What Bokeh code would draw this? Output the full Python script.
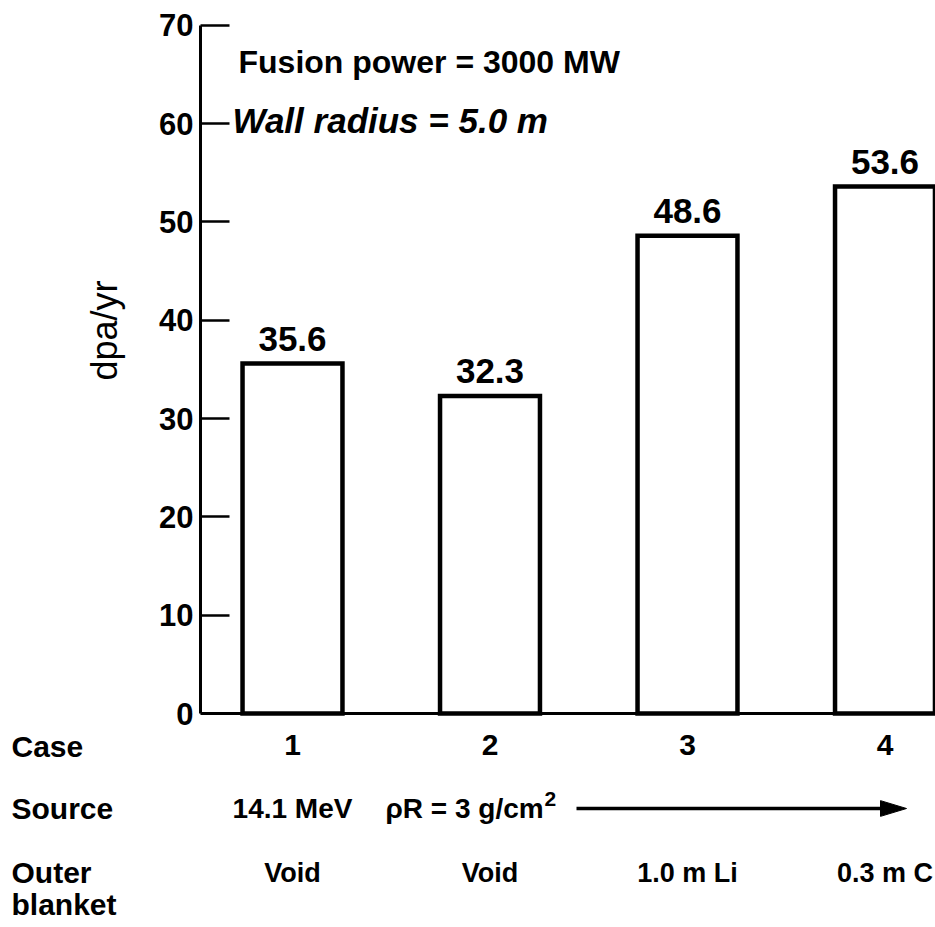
import math
from bokeh.plotting import figure
from bokeh.models import Range1d, Span, Label, FixedTicker, ColumnDataSource
from bokeh.core.properties import value
from bokeh.embed import file_html
from bokeh.resources import INLINE

# ---- data ----
cases = [1, 2, 3, 4]
case_labels = ["1", "2", "3", "4"]
dpa = [35.6, 32.3, 48.6, 53.6]
dpa_labels = ["35.6", "32.3", "48.6", "53.6"]
blankets = ["Void", "Void", "1.0 m Li", "0.3 m C"]
source_first = "14.1 MeV"
source_rest = "\u03c1R = 3 g/cm"
source_sup = "2"
row_headers = ["Case", "Source", "Outer", "blanket"]
y_ticks = [0, 10, 20, 30, 40, 50, 60, 70]
ylabel = "dpa/yr"
note1 = "Fusion power = 3000 MW"
note2 = "Wall radius = 5.0 m"

FONT = "Liberation Sans"

# ---- layout (pixels) ----
FIG_W, FIG_H = 935, 925
FRAME_LEFT = 200
FRAME_W = FIG_W - FRAME_LEFT
TOP = 10
FRAME_H = 708
BOTTOM = FIG_H - TOP - FRAME_H
PX_X = 197.5              # px per case
X0 = 1 - (292 - FRAME_LEFT) / PX_X
Y_START, Y_END = -0.5, 71.5
PX_Y = FRAME_H / (Y_END - Y_START)
ZERO_PX = TOP + Y_END * PX_Y


def dx(px):
    return X0 + (px - FRAME_LEFT) / PX_X


def dy(py):
    return (ZERO_PX - py) / PX_Y


p = figure(frame_width=FRAME_W, frame_height=FRAME_H,
           min_border_left=FRAME_LEFT, min_border_right=0,
           min_border_top=TOP, min_border_bottom=BOTTOM,
           x_range=Range1d(X0, X0 + FRAME_W / PX_X),
           y_range=Range1d(Y_START, Y_END),
           output_backend="svg", toolbar_location=None)
p.outline_line_color = None
p.xgrid.visible = False
p.ygrid.visible = False
p.background_fill_color = "white"
p.border_fill_color = "white"

# y axis
ya = p.yaxis[0]
ya.ticker = FixedTicker(ticks=y_ticks)
ya.bounds = (0, 70)
ya.axis_line_width = 3
ya.axis_line_color = "black"
ya.major_tick_in = 29
ya.major_tick_out = 0
ya.major_tick_line_width = 2.5
ya.minor_tick_line_color = None
ya.major_label_text_font = FONT
ya.major_label_text_font_size = "31px"
ya.major_label_text_font_style = "bold"
ya.major_label_text_color = "black"
ya.major_label_standoff = 7

# x axis (case numbers)
xa = p.xaxis[0]
xa.ticker = FixedTicker(ticks=cases)
xa.major_label_overrides = {c: l for c, l in zip(cases, case_labels)}
xa.axis_line_color = None
xa.major_tick_line_color = None
xa.major_tick_out = 0
xa.major_tick_in = 0
xa.minor_tick_line_color = None
xa.major_label_text_font = FONT
xa.major_label_text_font_size = "30px"
xa.major_label_text_font_style = "bold"
xa.major_label_text_color = "black"
xa.major_label_standoff = 16

# bars
src = ColumnDataSource(dict(x=cases, top=dpa, lab=dpa_labels))
p.vbar(x="x", top="top", bottom=0, width=0.506, source=src,
       fill_color="white", line_color="black", line_width=4.5,
       line_join="miter")
p.text(x="x", y="top", text="lab", source=src, y_offset=-13,
       text_align="center", text_baseline="bottom",
       text_font=value(FONT), text_font_size="35px", text_font_style="bold",
       text_color="black")

# baseline
p.add_layout(Span(location=0, dimension="width", line_color="black", line_width=3))

# notes
p.add_layout(Label(x=dx(238), y=dy(61), text=note1, text_font=FONT,
                   text_font_size="32px", text_font_style="bold",
                   text_baseline="middle", text_color="black"))
p.add_layout(Label(x=dx(232), y=dy(120), text=note2, text_font=FONT,
                   text_font_size="35px", text_font_style="bold italic",
                   text_baseline="middle", text_color="black"))

tfont = dict(text_font=value(FONT), text_color="black",
             text_baseline="middle", level="annotation")

# y label
p.text(x=[dx(104)], y=[dy(330)], text=[ylabel], angle=math.pi / 2,
       text_align="center", text_font_size="36px", **tfont)

ROW_CASE = dy(746)
ROW_SRC = dy(808)
ROW_OUT = dy(872)
ROW_BLK = dy(904)

# row headers
p.text(x=[dx(11)] * 4, y=[ROW_CASE, ROW_SRC, ROW_OUT, ROW_BLK],
       text=row_headers, text_align="left", text_font_size="30px",
       text_font_style="bold", **tfont)

# source row
p.text(x=[cases[0]], y=[ROW_SRC], text=[source_first], text_align="center",
       text_font_size="28px", text_font_style="bold", **tfont)
p.text(x=[dx(385)], y=[ROW_SRC], text=[source_rest], text_align="left",
       text_font_size="28px", text_font_style="bold", **tfont)
p.text(x=[dx(544)], y=[ROW_SRC], y_offset=-10, text=[source_sup], text_align="left",
       text_font_size="21px", text_font_style="bold", **tfont)
p.segment(x0=[dx(576)], y0=[ROW_SRC], x1=[dx(886)], y1=[ROW_SRC],
          line_width=3.5, line_color="black", level="annotation")
p.patch(x=[dx(880), dx(906), dx(880)],
        y=[ROW_SRC + 0.8, ROW_SRC, ROW_SRC - 0.8],
        fill_color="black", line_color="black", level="annotation")

# blanket row
p.text(x=cases, y=[ROW_OUT] * 4, text=blankets, text_align="center",
       text_font_size="27px", text_font_style="bold", **tfont)

open("out.html", "w").write(file_html(p, INLINE))
